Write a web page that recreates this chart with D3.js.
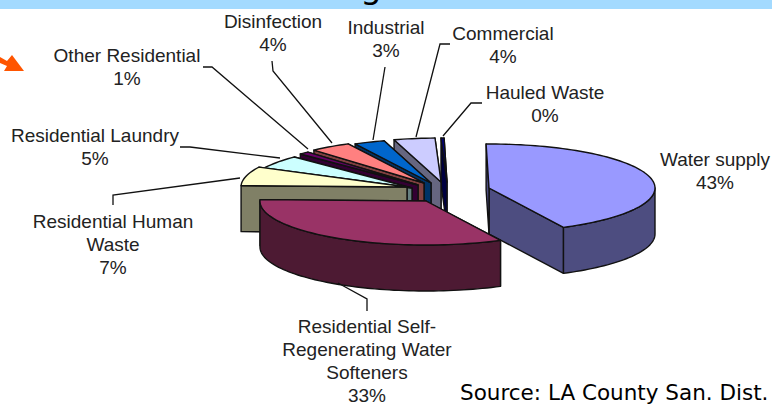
<!DOCTYPE html>
<html>
<head>
<meta charset="utf-8">
<script src="https://cdn.jsdelivr.net/npm/d3@7"></script>
<style>
html, body { margin: 0; padding: 0; background: #fff; overflow: hidden; }
svg { display: block; }
</style>
</head>
<body>
<script>
// values, hauled waste is a sliver that rounds to 0%
var categories = ["Water supply", "Residential Self-Regenerating Water Softeners", "Residential Human Waste",
	"Residential Laundry", "Other Residential", "Disinfection", "Industrial", "Commercial", "Hauled Waste"];
var shares = [43, 33, 7, 5, 1, 4, 3, 4, 0.3];
var percentLabels = ["43%", "33%", "7%", "5%", "1%", "4%", "3%", "4%", "0%"];
var labelLines = [["Water supply"], ["Residential Self-", "Regenerating Water", "Softeners"], ["Residential Human", "Waste"],
	["Residential Laundry"], ["Other Residential"], ["Disinfection"], ["Industrial"], ["Commercial"], ["Hauled Waste"]];

var topColors = ["#9999ff", "#993366", "#ffffcc", "#ccffff", "#660066", "#ff8080", "#0066cc", "#ccccff", "#000080"];
var wallColors = ["#4d4d80", "#4d1a33", "#808066", "#668080", "#330033", "#804040", "#003366", "#666680", "#000040"];

// layout: where each exploded slice has its apex, and where its label and leader go
var apexX = [489, 426, 407, 412, 418, 424, 431, 441, 447];
var apexY = [188, 201, 187, 188, 185, 183, 183, 182, 182];
var labelX = [715, 367, 113, 95, 127, 273, 386, 503, 545];
var labelY = [166, 333, 228, 142, 62, 28, 34, 40, 99];
var leaders = [
	[],
	[[338, 283], [367, 299], [367, 311]],
	[[113, 205], [113, 195], [240, 178]],
	[[180, 147], [190, 147], [280, 158]],
	[[203, 67], [212, 67], [308, 149]],
	[[272, 61], [273, 71], [332, 143]],
	[[385, 67], [373, 140]],
	[[450, 44], [440, 44], [416, 137]],
	[[482, 103], [471, 103], [443, 136]]
];

var width = 772, height = 407;
var rx = 166, ry = 44, depth = 46;
var lineHeight = 23;

var svg = d3.select("body").append("svg")
	.attr("width", width)
	.attr("height", height);

// top band and the bottom of the slide title that is cut off
svg.append("rect").attr("width", width).attr("height", 9).attr("fill", "#a3daff");
svg.append("text")
	.attr("x", 371).attr("y", -2)
	.attr("text-anchor", "middle")
	.style("font-family", "DejaVu Sans")
	.style("font-size", "34px")
	.attr("fill", "#000")
	.text("g");

// orange arrow coming in from the left edge
svg.append("path")
	.attr("d", "M0,57 L7,61 L12,55 L24,71 L4,71 L7,66 L0,63 Z")
	.attr("fill", "#ff5500");

var pie = d3.pie().sort(null).startAngle(-Math.PI / 180).endAngle(2 * Math.PI - Math.PI / 180);
var arcs = pie(shares);

var line = d3.line();

function onRim(i, a, drop) {
	return [apexX[i] + rx * Math.sin(a), apexY[i] - ry * Math.cos(a) + (drop || 0)];
}

function rim(i, a0, a1, drop) {
	var n = Math.max(2, Math.ceil((a1 - a0) / 0.03));
	return d3.range(n + 1).map(function(k) {
		return onRim(i, a0 + (a1 - a0) * k / n, drop);
	});
}

function radialWall(i, a) {
	var c = [apexX[i], apexY[i]];
	return line([c, onRim(i, a), onRim(i, a, depth), [c[0], c[1] + depth]]) + "Z";
}

function drawSlice(d, i) {
	var g = svg.append("g")
		.attr("stroke", "#111")
		.attr("stroke-width", 1.4)
		.attr("stroke-linejoin", "round");

	g.append("path").attr("d", radialWall(i, d.endAngle)).attr("fill", wallColors[i]);
	g.append("path").attr("d", radialWall(i, d.startAngle)).attr("fill", wallColors[i]);

	// outer wall only where the rim faces the viewer
	var a0 = Math.max(d.startAngle, Math.PI / 2);
	var a1 = Math.min(d.endAngle, 3 * Math.PI / 2);
	if (a1 > a0) {
		var upper = rim(i, a0, a1, 0);
		var lower = rim(i, a0, a1, depth).reverse();
		g.append("path").attr("d", line(upper.concat(lower)) + "Z").attr("fill", wallColors[i]);
	}

	var top = [[apexX[i], apexY[i]]].concat(rim(i, d.startAngle, d.endAngle, 0));
	g.append("path").attr("d", line(top) + "Z").attr("fill", topColors[i]);
}

// painter's order: water supply stands apart, then back slices to the front one
var drawOrder = [0, 8, 7, 6, 5, 4, 3, 2, 1];
drawOrder.forEach(function(i) { drawSlice(arcs[i], i); });

leaders.forEach(function(pts) {
	if (!pts.length) return;
	svg.append("path")
		.attr("d", line(pts))
		.attr("fill", "none")
		.attr("stroke", "#111")
		.attr("stroke-width", 1.3);
});

categories.forEach(function(c, i) {
	var t = svg.append("text")
		.attr("text-anchor", "middle")
		.style("font-family", "Liberation Sans")
		.style("font-size", "19px")
		.attr("fill", "#222");
	labelLines[i].concat([percentLabels[i]]).forEach(function(s, k) {
		t.append("tspan")
			.attr("x", labelX[i])
			.attr("y", labelY[i] + k * lineHeight)
			.text(s);
	});
});

svg.append("text")
	.attr("x", 460).attr("y", 400)
	.style("font-family", "DejaVu Sans")
	.style("font-size", "21.5px")
	.attr("fill", "#000")
	.text("Source: LA County San. Dist.");
</script>
</body>
</html>
